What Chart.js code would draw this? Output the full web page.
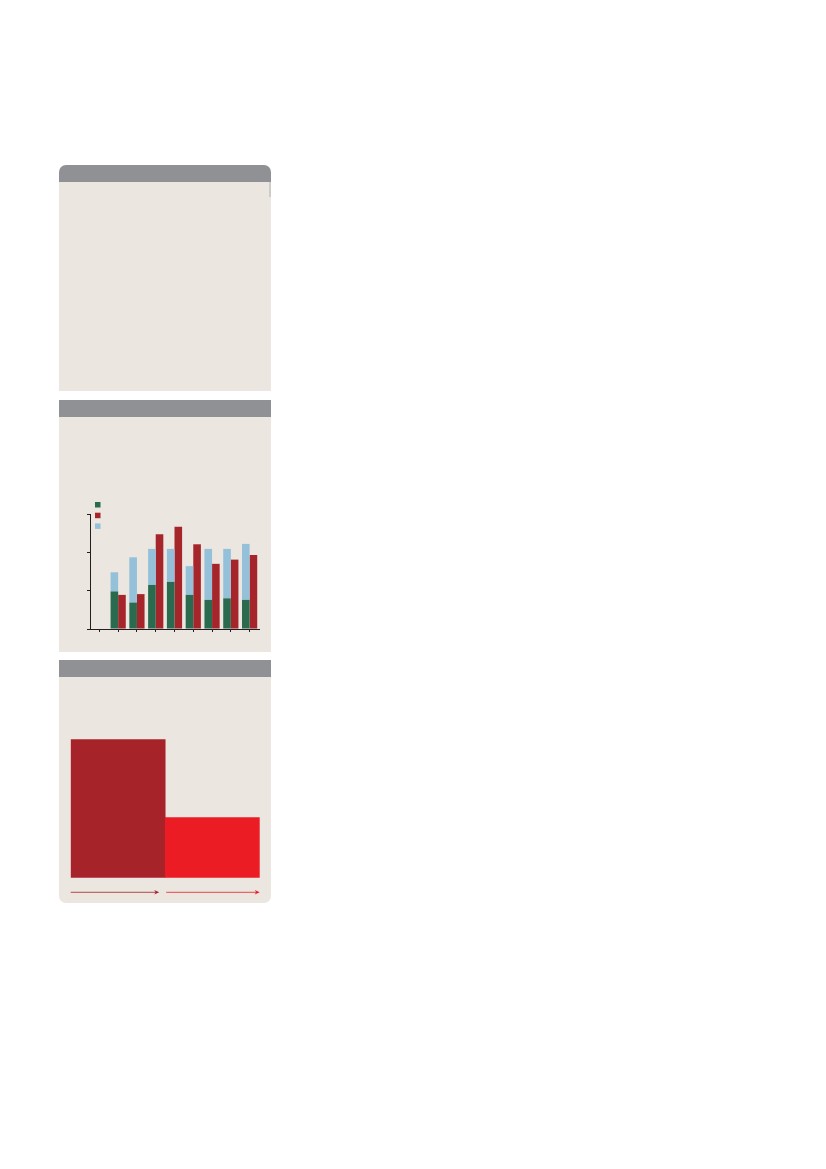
<!DOCTYPE html>
<html>
<head>
<meta charset="utf-8">
<script src="https://cdn.jsdelivr.net/npm/chart.js@4"></script>
<style>
  html, body { margin: 0; padding: 0; background: #fff; }
  body { width: 826px; height: 1169px; position: relative; overflow: hidden; font-family: "Noto Sans", sans-serif; }
  .hdr { position: absolute; left: 59px; width: 212px; height: 17px; background: #909194; }
  .bdy { position: absolute; left: 59px; width: 212px; background: #ebe6e0; }
  .box { position: absolute; }
</style>
</head>
<body>
  <div class="hdr" style="top:165px; border-radius:7px 7px 0 0;"></div>
  <div class="bdy" style="top:182px; height:209px;"></div>
  <div class="box" style="left:269px; top:182px; width:2px; height:15px; background:#cfccc8;"></div>

  <div class="hdr" style="top:400px;"></div>
  <div class="bdy" style="top:417px; height:235px;">
    <canvas id="graficoColunas"></canvas>
  </div>

  <div class="hdr" style="top:660px;"></div>
  <div class="bdy" style="top:677px; height:226px; border-radius:0 0 7px 7px;">
    <canvas id="graficoDegrau"></canvas>
  </div>

<script>
// grouped chart: one empty slot then eight periods
const periodos = ['0', '1', '2', '3', '4', '5', '6', '7', '8'];
const serieVerde = [null, 0.98, 0.69, 1.15, 1.23, 0.89, 0.76, 0.80, 0.76];
const serieAzul = [null, 0.50, 1.18, 0.94, 0.86, 0.75, 1.33, 1.29, 1.46];
const serieVermelha = [null, 0.89, 0.91, 2.47, 2.67, 2.21, 1.70, 1.81, 1.93];
const ticksY = [0, 1, 2, 3];

// step chart
const etapas = ['a', 'b'];
const valoresEtapas = [100, 43.4];

const corEixo = '#231f20';

document.addEventListener('DOMContentLoaded', () => {

    const legendaQuadrados = {
        id: 'legendaQuadrados',
        afterDraw(chart) {
            const ctx = chart.ctx;
            const ordem = [0, 2, 1];
            const x = chart.chartArea.left + 5;
            ordem.forEach((i, k) => {
                ctx.fillStyle = chart.data.datasets[i].backgroundColor;
                ctx.fillRect(x, chart.chartArea.top - 12 + k * 10.7, 5.5, 5.5);
            });
        }
    };

    const ctxColunas = document.getElementById('graficoColunas');
    if (ctxColunas) {
        new Chart(ctxColunas, {
            type: 'bar',
            data: {
                labels: periodos,
                datasets: [
                    { data: serieVerde, backgroundColor: '#2a6a4f', stack: 'a' },
                    { data: serieAzul, backgroundColor: '#94c0da', stack: 'a' },
                    { data: serieVermelha, backgroundColor: '#a6252b', stack: 'b' }
                ]
            },
            options: {
                responsive: true,
                maintainAspectRatio: false,
                animation: false,
                categoryPercentage: 0.81,
                barPercentage: 1,
                layout: { padding: { left: 28, right: 12, top: 97, bottom: 20 } },
                scales: {
                    x: {
                        stacked: true,
                        ticks: { display: false },
                        grid: { offset: false, drawOnChartArea: false, tickLength: 3, color: corEixo },
                        border: { color: corEixo, width: 1 }
                    },
                    y: {
                        stacked: true,
                        min: ticksY[0],
                        max: ticksY[ticksY.length - 1],
                        afterBuildTicks: (s) => { s.ticks = ticksY.map(v => ({ value: v })); },
                        ticks: { display: false },
                        grid: { drawOnChartArea: false, tickLength: 3, color: corEixo },
                        border: { color: corEixo, width: 1 }
                    }
                },
                plugins: { legend: { display: false }, tooltip: { enabled: false } }
            },
            plugins: [legendaQuadrados]
        });
    }

    const setas = {
        id: 'setas',
        afterDraw(chart) {
            const ctx = chart.ctx;
            const meta = chart.getDatasetMeta(0);
            const y = chart.chartArea.bottom + 14.6;
            meta.data.forEach((bar, i) => {
                const cor = chart.data.datasets[0].backgroundColor[i];
                const ini = bar.x - bar.width / 2 + (i > 0 ? 1 : 0);
                const fim = bar.x + bar.width / 2 - (i < meta.data.length - 1 ? 6 : 0);
                ctx.save();
                ctx.strokeStyle = cor;
                ctx.fillStyle = cor;
                ctx.lineWidth = 0.8;
                ctx.beginPath();
                ctx.moveTo(ini, y);
                ctx.lineTo(fim - 3, y);
                ctx.stroke();
                ctx.beginPath();
                ctx.moveTo(fim, y);
                ctx.lineTo(fim - 5, y - 2.3);
                ctx.lineTo(fim - 3.5, y);
                ctx.lineTo(fim - 5, y + 2.3);
                ctx.closePath();
                ctx.fill();
                ctx.restore();
            });
        }
    };

    const ctxDegrau = document.getElementById('graficoDegrau');
    if (ctxDegrau) {
        new Chart(ctxDegrau, {
            type: 'bar',
            data: {
                labels: etapas,
                datasets: [{
                    data: valoresEtapas,
                    backgroundColor: ['#a52329', '#ec1c24'],
                    borderWidth: 0
                }]
            },
            options: {
                responsive: true,
                maintainAspectRatio: false,
                animation: false,
                categoryPercentage: 1,
                barPercentage: 1,
                layout: { padding: { left: 11.7, right: 11.3, top: 62.3, bottom: 25.3 } },
                scales: {
                    x: { display: false },
                    y: { display: false, min: 0, max: valoresEtapas[0] }
                },
                plugins: { legend: { display: false }, tooltip: { enabled: false } }
            },
            plugins: [setas]
        });
    }

});
</script>
</body>
</html>
